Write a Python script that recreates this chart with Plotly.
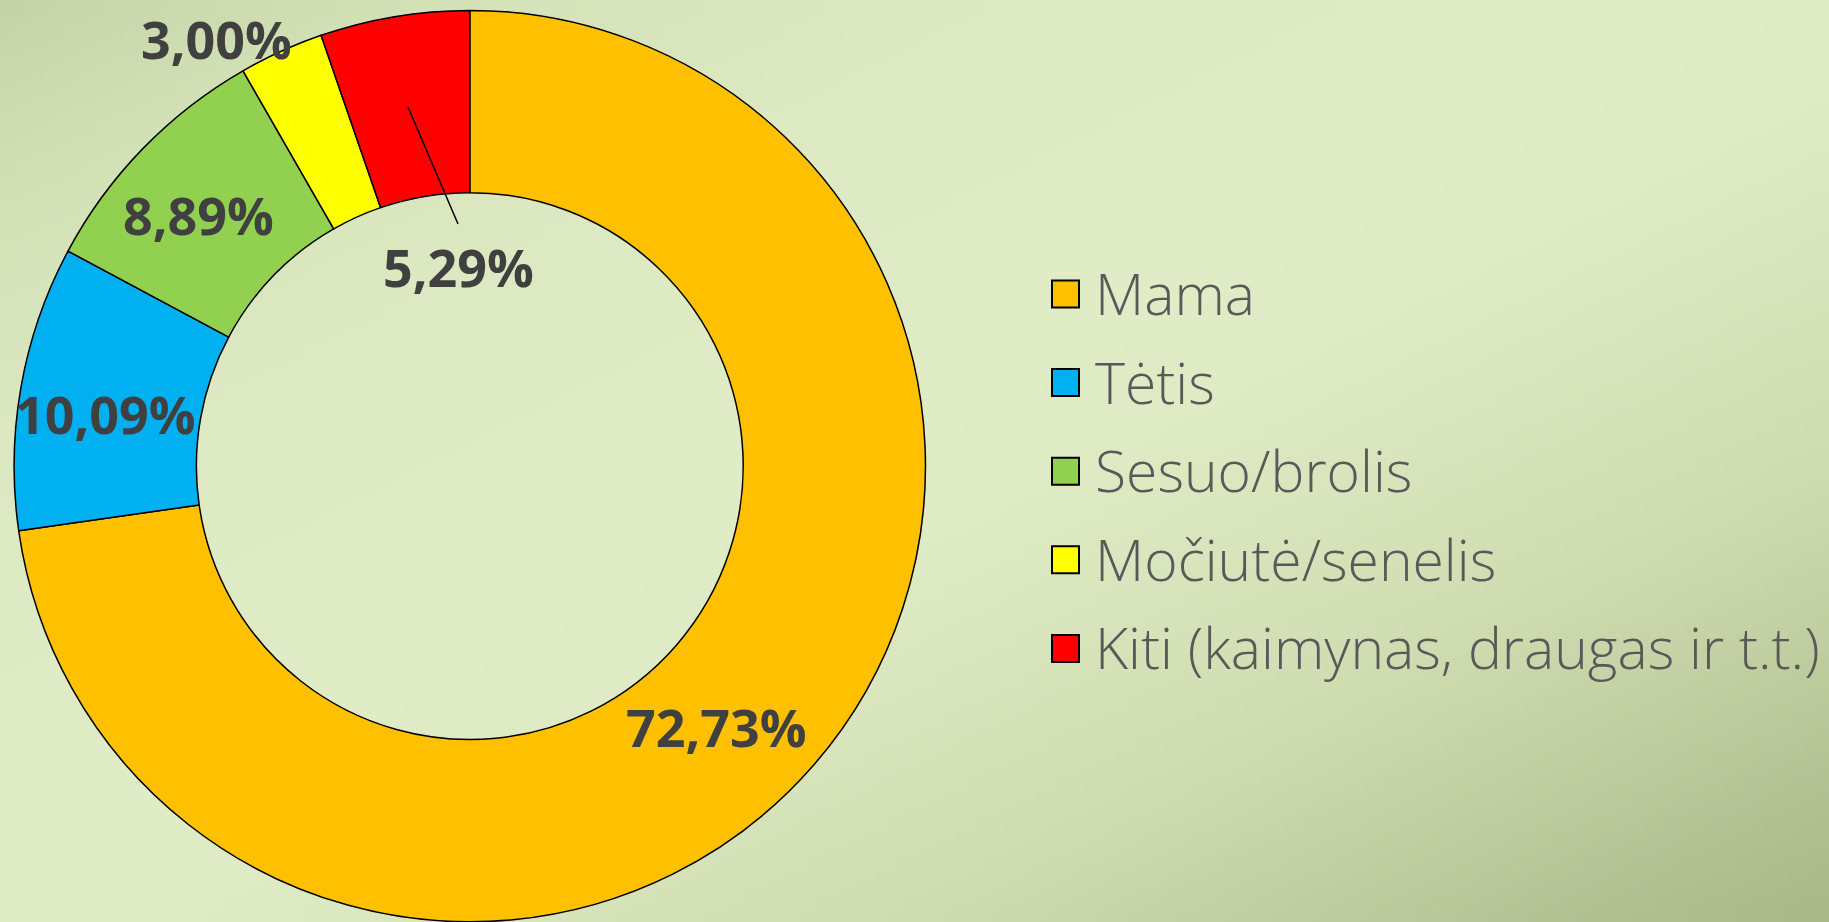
import base64, struct, zlib
import plotly.graph_objects as go

W, H = 1829, 922

# ---- data ----
categories = ["Mama", "Tėtis", "Sesuo/brolis", "Močiutė/senelis", "Kiti (kaimynas, draugas ir t.t.)"]
values = [72.73, 10.09, 8.89, 3.00, 5.29]
value_labels = ["72,73%", "10,09%", "8,89%", "3,00%", "5,29%"]
colors = ["#FFC000", "#00B0F0", "#92D050", "#FFFF00", "#FF0000"]

# label positions in pixels (x, y from top)
label_px = [(716, 726), (105, 413), (198, 215), (216, 38), (458, 266)]

# ---- gradient background as PNG ----
def make_png(w, h, fn):
    raw = bytearray()
    for j in range(h):
        raw.append(0)
        for i in range(w):
            raw.extend(fn(i / (w - 1), j / (h - 1)))
    def chunk(tag, data):
        c = struct.pack(">I", len(data)) + tag + data
        return c + struct.pack(">I", zlib.crc32(tag + data) & 0xffffffff)
    png = b"\x89PNG\r\n\x1a\n"
    png += chunk(b"IHDR", struct.pack(">IIBBBBB", w, h, 8, 2, 0, 0, 0))
    png += chunk(b"IDAT", zlib.compress(bytes(raw), 9))
    png += chunk(b"IEND", b"")
    return "data:image/png;base64," + base64.b64encode(png).decode()

stops = [(0.0, (196, 212, 168)), (0.12, (212, 226, 184)), (0.28, (221, 233, 194)),
         (0.45, (224, 236, 197)), (0.55, (223, 235, 196)), (0.75, (207, 220, 176)),
         (1.0, (168, 184, 136))]

def grad(u, v):
    t = (u + v) / 2
    for k in range(len(stops) - 1):
        t0, c0 = stops[k]
        t1, c1 = stops[k + 1]
        if t <= t1:
            f = (t - t0) / (t1 - t0)
            return bytes(int(round(c0[m] + (c1[m] - c0[m]) * f)) for m in range(3))
    return bytes(stops[-1][1])

bg = make_png(183, 92, grad)

fig = go.Figure()
fig.add_trace(go.Pie(
    labels=categories,
    values=values,
    hole=0.6,
    sort=False,
    direction="clockwise",
    rotation=0,
    textinfo="none",
    marker=dict(colors=colors, line=dict(color="#000000", width=1.5)),
    domain=dict(x=[0.0077, 0.506], y=[0.0, 0.989]),
    showlegend=False,
))

annotations = []
for txt, (px, py) in zip(value_labels, label_px):
    annotations.append(dict(
        x=px / W, y=1 - py / H, xref="paper", yref="paper",
        text=txt, showarrow=False, xanchor="center", yanchor="middle",
        font=dict(family="Open Sans", size=52, color="#404040", weight=700),
    ))

# manual legend
shapes = []
leg_x0, leg_y0, leg_dy = 1052, 294, 88.6
box = 27
for k, (name, col) in enumerate(zip(categories, colors)):
    cy = leg_y0 + k * leg_dy
    shapes.append(dict(
        type="rect", xref="paper", yref="paper",
        x0=leg_x0 / W, x1=(leg_x0 + box) / W,
        y0=1 - (cy + box / 2) / H, y1=1 - (cy - box / 2) / H,
        fillcolor=col, line=dict(color="#000000", width=2),
    ))
    annotations.append(dict(
        x=(leg_x0 + box + 14) / W, y=1 - (cy - 1) / H, xref="paper", yref="paper",
        text=name, showarrow=False, xanchor="left", yanchor="middle",
        font=dict(family="Open Sans", size=57, color="#595959", weight=300),
    ))

# leader line for 5,29%
shapes.append(dict(type="line", xref="paper", yref="paper",
                   x0=408 / W, y0=1 - 107 / H, x1=458 / W, y1=1 - 224 / H,
                   line=dict(color="#000000", width=1.5)))

fig.update_layout(
    width=W, height=H,
    margin=dict(l=0, r=0, t=0, b=0),
    paper_bgcolor="#dfebc4",
    plot_bgcolor="rgba(0,0,0,0)",
    images=[dict(source=bg, xref="paper", yref="paper", x=0, y=1, sizex=1, sizey=1,
                 sizing="stretch", layer="below", xanchor="left", yanchor="top")],
    annotations=annotations,
    shapes=shapes,
    showlegend=False,
)

fig.write_html("out.html", config={"displayModeBar": False},
               post_script="document.body.style.margin='0';document.body.style.overflow='hidden';")
